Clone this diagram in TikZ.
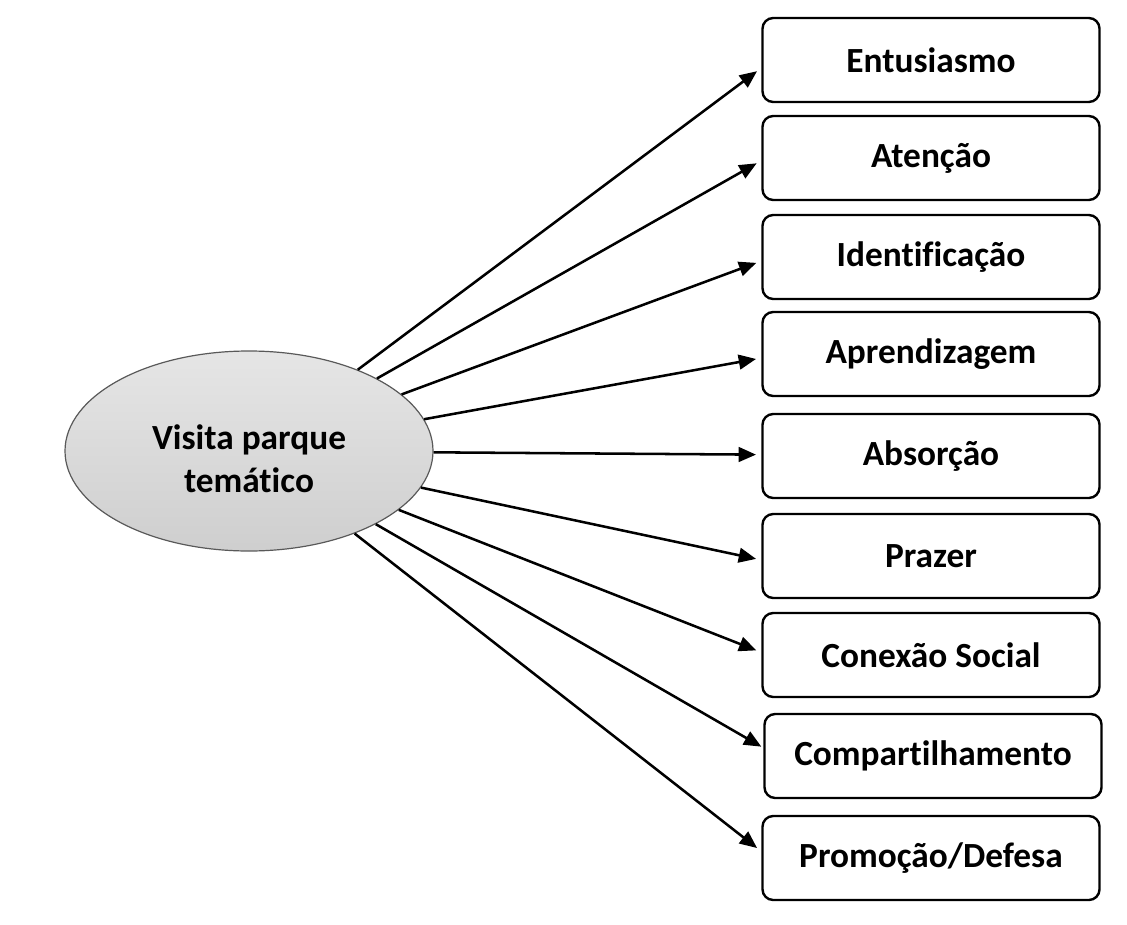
\documentclass[tikz,border=0pt]{standalone}
\usepackage{fontspec}
\setmainfont{Carlito}[Ligatures={NoCommon}]
\usetikzlibrary{arrows.meta,shapes.geometric}
\tikzset{
  outbox/.style={draw=black, line width=1.8pt, rounded corners=8pt, fill=white,
    minimum width=252.75pt, minimum height=63pt, inner sep=0pt,
    font=\fontsize{26.5}{32}\selectfont\bfseries},
  hub/.style={ellipse, draw=black!65, line width=0.9pt, top color=gray!20, bottom color=gray!38,
    minimum width=276pt, minimum height=150pt, inner sep=0pt},
  hubtext/.style={align=center, inner sep=0pt, font=\fontsize{26.5}{32.5}\selectfont\bfseries},
  link/.style={line width=1.9pt, -{Triangle[length=13pt,width=11pt]}, shorten >=4pt}
}
\begin{document}
\begin{tikzpicture}[x=0.75pt,y=-0.75pt]
\useasboundingbox (0,0) rectangle (1127,924);
\node[hub, label={[hubtext, yshift=-6pt]center:Visita parque\\temático}] (e) at (249,451) {};
\node[outbox] (b1) at (931,60) {Entusiasmo};
\node[outbox] (b2) at (931,158) {Atenção};
\node[outbox] (b3) at (931,257) {Identificação};
\node[outbox] (b4) at (931,354) {Aprendizagem};
\node[outbox] (b5) at (931,456) {Absorção};
\node[outbox] (b6) at (931,556) {Prazer};
\node[outbox] (b7) at (931,655) {Conexão Social};
\node[outbox] (b8) at (933,756) {Compartilhamento};
\node[outbox] (b9) at (931,858) {Promoção/Defesa};
\coordinate (t1) at ([yshift=-6pt]b1.west);
\coordinate (t2) at ([yshift=-2pt]b2.west);
\coordinate (t3) at ([yshift=-3pt]b3.west);
\coordinate (t4) at ([yshift=-3pt]b4.west);
\coordinate (t5) at ([yshift=1pt]b5.west);
\coordinate (t6) at ([yshift=-3pt]b6.west);
\coordinate (t7) at ([yshift=2pt]b7.west);
\coordinate (t8) at ([yshift=5pt,xshift=2pt]b8.west);
\coordinate (t9) at ([yshift=5pt]b9.west);
\foreach \i in {1,...,9} {
  \draw[link] (e) -- (t\i);
}
\end{tikzpicture}
\end{document}
